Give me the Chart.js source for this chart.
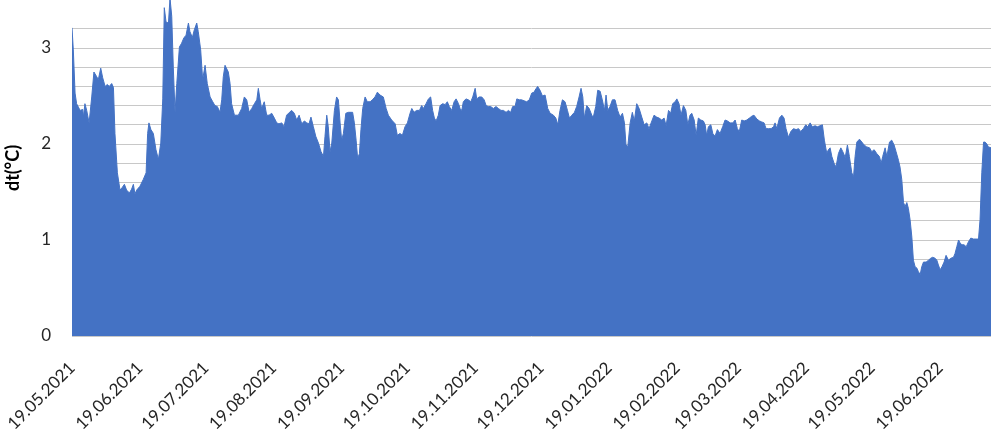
<!DOCTYPE html>
<html><head><meta charset="utf-8">
<script src="https://cdn.jsdelivr.net/npm/chart.js@4.4.1/dist/chart.umd.min.js"></script>
<style>html,body{margin:0;padding:0;background:#fff}#wrap{width:991px;height:430px;position:relative}</style>
</head><body><div id="wrap"><canvas id="c"></canvas></div>
<script>
// x tick positions: days since 19.05.2021
const monthTickDays = [0, 31, 61, 92, 123, 153, 184, 214, 245, 276, 304, 335, 365, 396];
const monthTickLabels = ['19.05.2021','19.06.2021','19.07.2021','19.08.2021','19.09.2021','19.10.2021','19.11.2021','19.12.2021','19.01.2022','19.02.2022','19.03.2022','19.04.2022','19.05.2022','19.06.2022'];
const yAxisTitle = 'dt(°C)';

// measurement time in days since 19.05.2021
const dayOffsets = [
0,0.6,1.4,2.1,3.7,4.9,5.2,5.9,6.7,7.8,9.0,10.0,11.3,12.0,13.1,14.0,15.1,16.1,17.0,18.1,18.9,19.6,20.7,21.9,23.0,23.9,24.9,26.2,27.2,28.0,28.7,29.5,31.0,32.5,33.8,34.5,35.1,36.0,37.1,38.3,39.4,40.5,41.4,42.1,42.9,44.0,44.7,45.5,46.2,47.0,47.8,49.0,50.0,51.1,52.0,53.1,53.8,54.9,55.8,56.9,57.6,58.7,59.6,60.7,61.7,63.0,64.2,65.2,66.3,67.5,68.3,69.0,
69.8,71.3,72.1,72.8,74.1,75.9,77.4,78.6,79.7,80.8,82.0,83.2,84.3,85.0,85.8,86.5,87.7,88.8,89.9,91.1,92.3,93.4,94.4,95.7,96.7,97.9,99.2,100.2,101.4,102.5,103.6,104.8,106.0,107.1,108.1,109.0,110.1,111.2,112.4,113.6,114.7,115.4,116.2,116.9,117.7,118.5,119.7,120.7,121.5,122.3,123.0,123.8,124.9,126.1,127.3,128.0,128.8,129.6,130.3,131.1,131.8,132.6,133.7,134.7,136.0,137.0,138.2,139.3,
140.5,142.0,143.3,144.3,145.8,147.4,148.4,149.6,150.7,151.9,153.0,154.2,155.0,156.0,157.2,158.5,159.5,160.3,161.5,162.6,163.6,164.5,165.3,166.1,167.1,167.9,169.1,170.2,171.2,172.1,173.2,174.3,175.2,176.3,177.0,177.8,178.5,179.7,180.8,181.9,182.8,183.9,184.6,185.7,186.9,188.0,188.9,189.9,191.0,192.2,193.4,194.5,195.7,196.8,198.0,199.1,200.1,201.0,202.1,202.9,204.1,205.1,206.2,207.4,208.6,209.7,210.8,
211.2,212.4,213.5,214.6,215.8,217.0,218.1,219.6,220.7,221.6,222.6,223.7,224.9,226.0,226.9,228.0,229.2,230.2,231.3,232.2,233.0,233.7,234.8,235.9,237.1,237.8,238.9,239.8,240.9,241.9,242.9,243.6,244.4,245.4,246.5,247.7,248.9,250.0,251.1,252.0,252.7,253.5,254.6,255.6,256.5,257.6,258.7,259.9,261.0,262.2,263.2,264.5,265.5,266.7,267.8,269.0,270.1,271.0,272.1,273.1,274.0,275.1,275.9,276.9,277.8,278.9,280.0,280.9,
281.9,282.7,283.8,284.7,285.7,286.8,288.0,288.8,289.5,290.3,291.4,292.3,293.3,294.4,295.6,296.8,297.9,299.0,300.2,301.4,302.5,303.5,304.4,305.5,306.6,307.8,309.0,310.1,311.1,312.4,313.6,314.6,315.7,316.6,317.7,318.9,320.0,320.7,321.5,322.7,323.8,324.8,325.7,326.8,327.9,329.1,330.3,331.4,332.4,333.6,334.7,335.6,336.7,337.7,339.0,340.0,341.2,342.3,343.2,344.3,345.0,345.8,346.6,347.6,348.5,349.6,350.7,351.6,
352.7,353.7,354.6,355.7,356.5,357.2,358.0,359.2,360.3,361.3,362.5,363.8,364.8,365.9,367.1,368.3,369.1,369.8,370.9,371.7,372.9,373.9,375.0,375.9,377.0,377.7,378.5,379.3,380.0,380.8,381.5,382.3,383.1,383.8,384.6,385.3,386.1,386.9,387.6,388.4,389.6,390.7,391.7,392.6,393.7,394.5,395.2,396.0,396.8,397.8,398.7,399.8,400.9,402.1,402.8,403.6,404.4,405.1,405.9,406.9,407.9,408.9,410.0,411.2,412.4,413.5,414.2,415.0,415.8,416.5,417.3,418.0,419.2
];
// dt in °C
const dtValues = [
3.21,2.98,2.53,2.42,2.35,2.36,2.28,2.42,2.35,2.22,2.49,2.75,2.70,2.67,2.79,2.69,2.60,2.62,2.60,2.63,2.59,2.11,1.70,1.52,1.55,1.58,1.52,1.49,1.53,1.58,1.48,1.52,1.56,1.63,1.70,2.11,2.22,2.15,2.11,1.94,1.84,2.01,2.47,3.42,3.27,3.26,3.52,3.33,2.80,2.33,2.63,3.01,3.05,3.11,3.13,3.26,3.17,3.11,3.19,3.26,3.17,2.98,2.67,2.82,2.63,2.49,2.44,2.40,2.39,2.33,2.46,2.70,
2.82,2.75,2.63,2.42,2.30,2.30,2.37,2.49,2.46,2.33,2.37,2.42,2.46,2.58,2.46,2.37,2.44,2.30,2.30,2.32,2.27,2.22,2.21,2.22,2.18,2.30,2.33,2.35,2.32,2.25,2.30,2.21,2.24,2.22,2.21,2.28,2.18,2.08,2.01,1.92,1.87,2.08,2.30,2.18,1.92,2.01,2.35,2.49,2.46,2.22,2.04,2.11,2.32,2.33,2.33,2.33,2.22,2.04,1.85,1.90,2.15,2.37,2.49,2.44,2.44,2.46,2.49,2.54,
2.51,2.49,2.37,2.30,2.25,2.21,2.09,2.11,2.09,2.18,2.22,2.32,2.37,2.33,2.35,2.35,2.40,2.37,2.42,2.47,2.49,2.35,2.27,2.24,2.30,2.40,2.42,2.41,2.44,2.39,2.35,2.44,2.47,2.42,2.37,2.35,2.44,2.47,2.46,2.44,2.49,2.58,2.47,2.49,2.49,2.46,2.40,2.39,2.39,2.37,2.39,2.37,2.35,2.35,2.33,2.35,2.33,2.39,2.39,2.47,2.46,2.46,2.45,2.44,2.46,2.53,2.54,
2.56,2.60,2.56,2.50,2.51,2.37,2.32,2.30,2.27,2.20,2.35,2.46,2.44,2.35,2.27,2.30,2.33,2.39,2.49,2.58,2.49,2.27,2.40,2.37,2.30,2.28,2.39,2.56,2.55,2.46,2.35,2.51,2.35,2.39,2.46,2.46,2.35,2.28,2.32,2.22,1.99,1.97,2.22,2.33,2.24,2.42,2.37,2.28,2.20,2.22,2.16,2.24,2.30,2.28,2.27,2.25,2.27,2.19,2.35,2.32,2.42,2.44,2.47,2.42,2.30,2.40,2.35,2.20,
2.30,2.32,2.25,2.09,2.27,2.25,2.24,2.20,2.09,2.18,2.20,2.11,2.08,2.15,2.11,2.18,2.25,2.24,2.22,2.22,2.25,2.16,2.13,2.25,2.24,2.25,2.27,2.29,2.30,2.26,2.24,2.23,2.22,2.16,2.16,2.16,2.18,2.22,2.16,2.27,2.30,2.27,2.16,2.07,2.13,2.16,2.15,2.16,2.13,2.16,2.20,2.18,2.22,2.18,2.19,2.18,2.19,2.20,2.04,1.90,1.94,1.96,1.87,1.80,1.76,1.90,1.96,1.92,
1.86,1.99,1.87,1.70,1.66,1.87,2.02,2.05,2.02,1.99,1.97,1.96,1.92,1.94,1.90,1.87,1.80,1.87,1.96,1.87,2.02,2.04,1.99,1.92,1.83,1.76,1.63,1.39,1.35,1.39,1.33,1.21,1.03,0.79,0.72,0.71,0.67,0.64,0.72,0.77,0.77,0.79,0.81,0.82,0.81,0.79,0.74,0.69,0.72,0.77,0.84,0.79,0.81,0.82,0.86,0.93,1.00,0.97,0.95,0.95,0.93,0.98,1.02,1.01,1.01,1.01,1.21,1.70,2.02,2.02,2.00,1.97,1.96
];

const n = Math.min(dayOffsets.length, dtValues.length);
const points = [];
for (let i = 0; i < n; i++) points.push({x: dayOffsets[i], y: dtValues[i]});

const textColor = '#262626';
const fontFamily = 'Lato, "Open Sans", sans-serif';

new Chart(document.getElementById('c'), {
  type: 'line',
  data: { datasets: [{
    data: points,
    fill: 'origin',
    backgroundColor: '#4472C4',
    borderColor: '#4472C4',
    borderWidth: 1,
    pointRadius: 0,
    tension: 0
  }]},
  options: {
    responsive: true,
    maintainAspectRatio: false,
    animation: false,
    layout: { padding: 0 },
    plugins: { legend: { display: false }, tooltip: { enabled: false } },
    scales: {
      x: {
        type: 'linear',
        min: 0,
        max: dayOffsets[dayOffsets.length - 1],
        grid: { display: false },
        border: { display: false },
        afterBuildTicks: s => { s.ticks = monthTickDays.map(v => ({ value: v })); },
        afterFit: s => { s.height = 94; s.paddingLeft = 0; s.paddingRight = 0; },
        ticks: {
          autoSkip: false, minRotation: 45, maxRotation: 45, padding: 14,
          color: textColor, font: { family: fontFamily, size: 17 },
          callback: (v, i) => monthTickLabels[i]
        }
      },
      y: {
        min: 0,
        max: 3.5,
        border: { display: false },
        grid: { color: '#c8c8c8', lineWidth: 1, drawTicks: false },
        afterBuildTicks: s => { s.ticks = s.ticks.filter(t => t.value < 3.45); },
        afterFit: s => { s.width = 72; s.paddingTop = 0; s.paddingBottom = 0; },
        title: { display: true, text: yAxisTitle, color: '#000', padding: { top: 2, bottom: 2 },
                 font: { family: fontFamily, size: 18, weight: 'bold' } },
        ticks: {
          autoSkip: false, stepSize: 0.2, maxTicksLimit: 100, padding: 21,
          color: textColor, font: { family: fontFamily, size: 17 },
          callback: v => Math.abs(v - Math.round(v)) < 1e-6 ? String(Math.round(v)) : ''
        }
      }
    }
  }
});
</script>
</body></html>
